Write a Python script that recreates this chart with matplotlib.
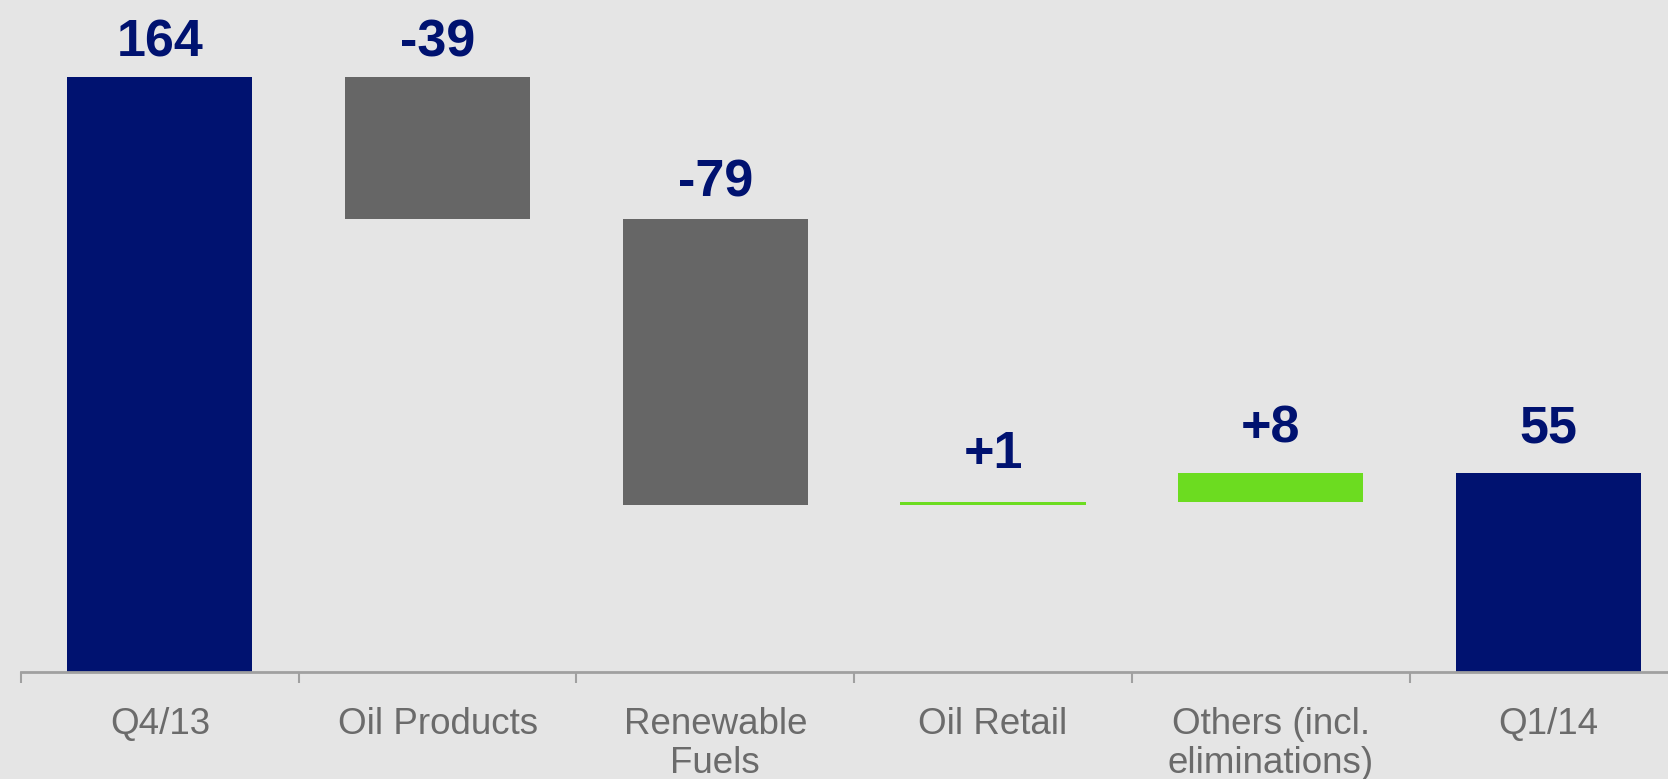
import matplotlib.pyplot as plt
import numpy as np

# waterfall: Q4/13 -> Q1/14
categories = ["Q4/13", "Oil Products", "Renewable\nFuels", "Oil Retail",
              "Others (incl.\neliminations)", "Q1/14"]
values = [164, -39, -79, 1, 8, 55]
is_total = [True, False, False, False, False, True]
value_labels = ["164", "-39", "-79", "+1", "+8", "55"]

# label gap above each bar, in points (layout only)
label_gap = [15, 15, 16, 24, 21.5, 21.5]

NAVY = "#001270"
GREY = "#666666"
GREEN = "#6cdc20"
BG = "#e5e5e5"

plt.rcParams["font.family"] = ["Liberation Sans", "DejaVu Sans"]

# bar bottoms / heights
bottoms, heights, colors = [], [], []
running = 0
for v, tot in zip(values, is_total):
    if tot:
        bottoms.append(0)
        heights.append(v)
        colors.append(NAVY)
        running = v
    else:
        start = running
        running = running + v
        bottoms.append(min(start, running))
        heights.append(abs(v))
        colors.append(GREY if v < 0 else GREEN)

fig = plt.figure(figsize=(16.68, 7.79), dpi=100, facecolor=BG)
ax = fig.add_axes([21 / 1668, 1 - 672 / 779, 1 - 21 / 1668, 672 / 779])
ax.set_facecolor(BG)

x = np.arange(len(categories))
ax.bar(x, heights, bottom=bottoms, width=0.667, color=colors)

for xi, b, h, lab, gap in zip(x, bottoms, heights, value_labels, label_gap):
    ax.annotate(lab, (xi, b + h), xytext=(0, gap), textcoords="offset points",
                ha="center", va="baseline", fontsize=37.5, fontweight="bold",
                color=NAVY)

for s in ["top", "right", "left"]:
    ax.spines[s].set_visible(False)
ax.spines["bottom"].set_color("#a0a0a0")
ax.spines["bottom"].set_linewidth(2)
ax.set_yticks([])

ax.set_xticks(x)
ax.set_xticklabels(categories, fontsize=26.5, color="#6b6b6b", linespacing=1.17)
ax.tick_params(axis="x", which="major", length=0, pad=25)
ax.set_xticks(np.arange(-0.5, 6, 1), minor=True)
ax.tick_params(axis="x", which="minor", length=8, width=1.5, color="#a0a0a0")

# set limits after ticks (set_xticks can widen the view)
ax.set_xlim(-0.5, 5.43)
ax.set_ylim(0, 185.3)

fig.savefig("out.png", dpi=100, facecolor=BG)
